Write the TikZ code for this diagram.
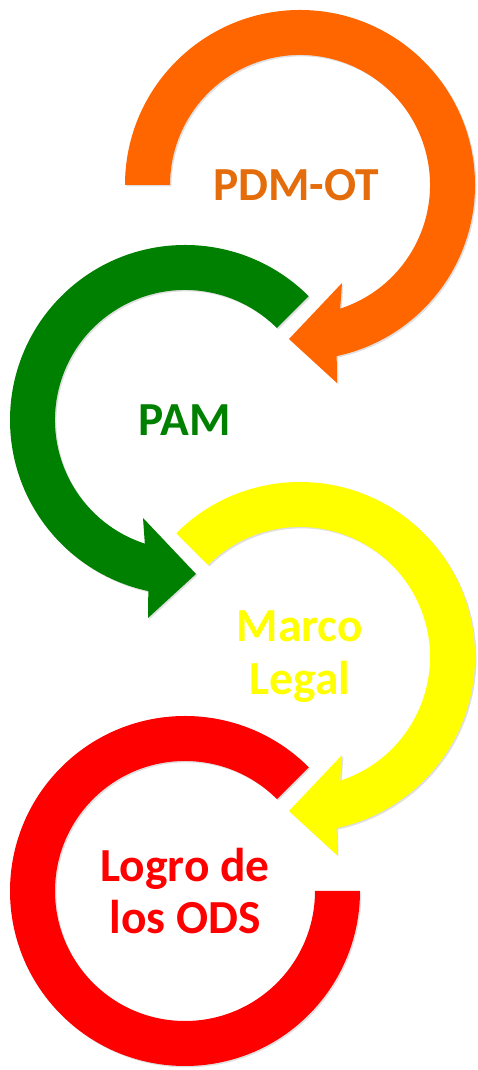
\documentclass[tikz,border=0pt]{standalone}
\usepackage{fontspec}
\setmainfont{Carlito}
\usetikzlibrary{shadows}
\definecolor{arcorange}{RGB}{255,102,0}
\definecolor{textorange}{RGB}{228,108,10}
\definecolor{arcgreen}{RGB}{0,128,0}
\definecolor{arcyellow}{RGB}{255,255,0}
\definecolor{arcred}{RGB}{255,0,0}

\begin{document}
\begin{tikzpicture}[x=0.02cm, y=0.02cm,
    band/.style={drop shadow={shadow xshift=0.8pt, shadow yshift=-0.8pt, opacity=0.25}},
    arctext/.style={font=\fontsize{27}{30}\selectfont\bfseries, align=center}]
\useasboundingbox (0,0) rectangle (477,1070);

\coordinate (c1) at (300,885);
\coordinate (c2) at (185,650);
\coordinate (c3) at (300,413);
\coordinate (c4) at (185,179);

% orange arrow
\fill[arcorange, band, shift={(c1)}] (180:175) arc[start angle=180, end angle=-77.9, radius=175]
    -- (37,-198) -- (-11,-154) -- (42,-98) -- (-72:130) arc[start angle=-72, end angle=180, radius=130] -- cycle;
% green arrow
\fill[arcgreen, band, shift={(c2)}] (45:175) arc[start angle=45, end angle=257.9, radius=175]
    -- (-37,-198) -- (11,-154) -- (-42,-98) -- (252:130) arc[start angle=252, end angle=45, radius=130] -- cycle;
% yellow arrow
\fill[arcyellow, band, shift={(c3)}] (135:175) arc[start angle=135, end angle=-77.9, radius=175]
    -- (37,-198) -- (-11,-154) -- (42,-98) -- (-72:130) arc[start angle=-72, end angle=135, radius=130] -- cycle;
% red arc
\fill[arcred, band, shift={(c4)}] (45:175) arc[start angle=45, end angle=360, radius=175]
    -- (0:130) arc[start angle=360, end angle=45, radius=130] -- cycle;

\node[arctext, text=textorange] (pdm) at ([xshift=-0.08cm]c1) {PDM-OT};
\node[arctext, text=arcgreen] (pam) at (c2) {PAM};
\node[arctext, text=arcyellow] (marco) at (c3) {Marco\\Legal};
\node[arctext, text=arcred] (logro) at (c4) {Logro de\\los ODS};
\end{tikzpicture}
\end{document}
